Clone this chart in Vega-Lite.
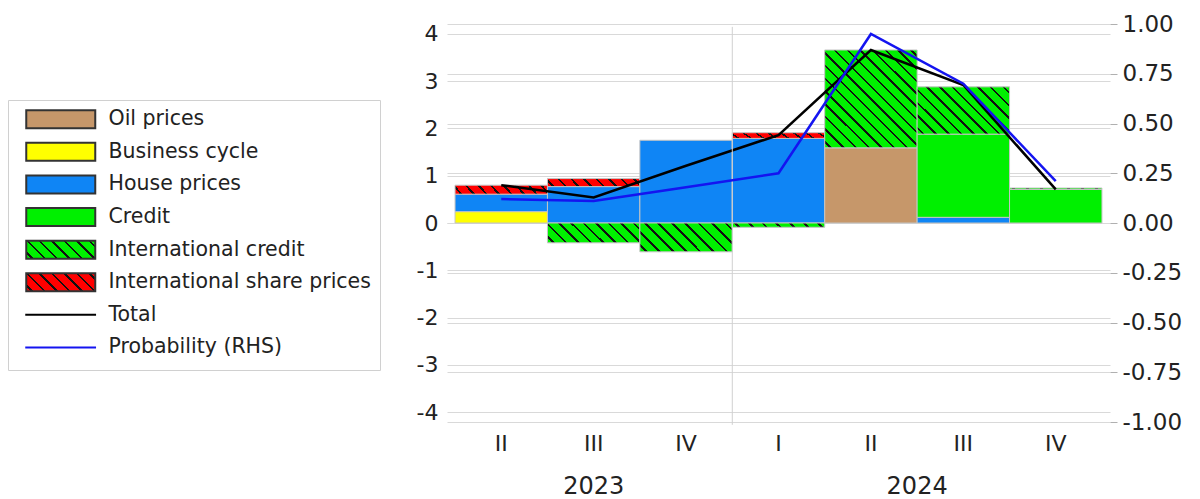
{
"$schema": "https://vega.github.io/schema/vega-lite/v6.json",
"autosize": {"type": "none"},
"width": 663,
"height": 398,
"padding": {"left": 447, "top": 24, "right": 90, "bottom": 77},
"background": "white",
"config": {
  "view": {"stroke": null},
  "font": "DejaVu Sans",
  "axis": {"labelFont": "DejaVu Sans", "labelFontSize": 22, "labelColor": "#222222", "domain": false, "gridColor": "#d9d9d9", "gridWidth": 1}
},
"datasets": {
  "bars": [
    {"q": "2023 II", "series": "Business cycle", "value": 0.24, "o": 1},
    {"q": "2023 II", "series": "House prices", "value": 0.37, "o": 2},
    {"q": "2023 II", "series": "International share prices", "value": 0.19, "o": 5},
    {"q": "2023 III", "series": "House prices", "value": 0.77, "o": 2},
    {"q": "2023 III", "series": "International share prices", "value": 0.17, "o": 5},
    {"q": "2023 III", "series": "International credit", "value": -0.42, "o": 4},
    {"q": "2023 IV", "series": "House prices", "value": 1.75, "o": 2},
    {"q": "2023 IV", "series": "International credit", "value": -0.61, "o": 4},
    {"q": "2024 I", "series": "House prices", "value": 1.79, "o": 2},
    {"q": "2024 I", "series": "International share prices", "value": 0.12, "o": 5},
    {"q": "2024 I", "series": "International credit", "value": -0.09, "o": 4},
    {"q": "2024 II", "series": "Oil prices", "value": 1.59, "o": 0},
    {"q": "2024 II", "series": "International credit", "value": 2.07, "o": 4},
    {"q": "2024 III", "series": "House prices", "value": 0.12, "o": 2},
    {"q": "2024 III", "series": "Credit", "value": 1.76, "o": 3},
    {"q": "2024 III", "series": "International credit", "value": 1.0, "o": 4},
    {"q": "2024 IV", "series": "Credit", "value": 0.71, "o": 3},
    {"q": "2024 IV", "series": "International credit", "value": 0.03, "o": 4}
  ],
  "lines": [
    {"q": "2023 II", "total": 0.80, "prob": 0.12},
    {"q": "2023 III", "total": 0.54, "prob": 0.11},
    {"q": "2023 IV", "total": 1.21, "prob": 0.18},
    {"q": "2024 I", "total": 1.86, "prob": 0.25},
    {"q": "2024 II", "total": 3.66, "prob": 0.95},
    {"q": "2024 III", "total": 2.92, "prob": 0.70},
    {"q": "2024 IV", "total": 0.71, "prob": 0.21}
  ]
},
"layer": [
  {"layer": [
    {
      "data": {"name": "bars"},
      "mark": {"type": "bar", "stroke": "#c4c4c4", "strokeWidth": 1},
      "encoding": {
        "x": {"field": "q", "type": "ordinal", "title": null, "scale": {"domain": ["2023 II","2023 III","2023 IV","2024 I","2024 II","2024 III","2024 IV"], "paddingInner": 0, "paddingOuter": 0.087},
              "axis": {"orient": "bottom", "labelExpr": "split(datum.label, ' ')[1]", "labelAngle": 0, "ticks": false, "labelPadding": 11, "grid": false, "title": null}},
        "y": {"field": "value", "type": "quantitative", "title": null, "stack": "zero", "scale": {"domain": [-4.21, 4.21], "nice": false, "zero": false},
              "axis": {"orient": "left", "values": [-4,-3,-2,-1,0,1,2,3,4], "labelExpr": "replace(datum.label, '\u2212', '-')", "grid": true, "ticks": false, "labelPadding": 9, "title": null}},
        "order": {"field": "o", "type": "quantitative"},
        "fill": {
          "field": "series", "type": "nominal",
          "scale": {"domain": ["Oil prices","Business cycle","House prices","Credit","International credit","International share prices","Total","Probability (RHS)"],
                    "range": ["#c6976a","#ffff00","#0f85f5","#00f000",
                      {"expr": "{gradient: 'linear', x1: 0, y1: 1, x2: 1.1806, y2: 0.692, stops: [{offset: 0, color: '#00f000'}, {offset: 0.0571, color: '#00f000'}, {offset: 0.0571, color: '#111111'}, {offset: 0.0857, color: '#111111'}, {offset: 0.0857, color: '#00f000'}, {offset: 0.2, color: '#00f000'}, {offset: 0.2, color: '#111111'}, {offset: 0.2286, color: '#111111'}, {offset: 0.2286, color: '#00f000'}, {offset: 0.3429, color: '#00f000'}, {offset: 0.3429, color: '#111111'}, {offset: 0.3714, color: '#111111'}, {offset: 0.3714, color: '#00f000'}, {offset: 0.4857, color: '#00f000'}, {offset: 0.4857, color: '#111111'}, {offset: 0.5143, color: '#111111'}, {offset: 0.5143, color: '#00f000'}, {offset: 0.6286, color: '#00f000'}, {offset: 0.6286, color: '#111111'}, {offset: 0.6571, color: '#111111'}, {offset: 0.6571, color: '#00f000'}, {offset: 0.7714, color: '#00f000'}, {offset: 0.7714, color: '#111111'}, {offset: 0.8, color: '#111111'}, {offset: 0.8, color: '#00f000'}, {offset: 0.9143, color: '#00f000'}, {offset: 0.9143, color: '#111111'}, {offset: 0.9429, color: '#111111'}, {offset: 0.9429, color: '#00f000'}, {offset: 1, color: '#00f000'}]}"},
                      {"expr": "{gradient: 'linear', x1: 0, y1: 1, x2: 1.1806, y2: 0.692, stops: [{offset: 0, color: '#ff0000'}, {offset: 0.0571, color: '#ff0000'}, {offset: 0.0571, color: '#111111'}, {offset: 0.0857, color: '#111111'}, {offset: 0.0857, color: '#ff0000'}, {offset: 0.2, color: '#ff0000'}, {offset: 0.2, color: '#111111'}, {offset: 0.2286, color: '#111111'}, {offset: 0.2286, color: '#ff0000'}, {offset: 0.3429, color: '#ff0000'}, {offset: 0.3429, color: '#111111'}, {offset: 0.3714, color: '#111111'}, {offset: 0.3714, color: '#ff0000'}, {offset: 0.4857, color: '#ff0000'}, {offset: 0.4857, color: '#111111'}, {offset: 0.5143, color: '#111111'}, {offset: 0.5143, color: '#ff0000'}, {offset: 0.6286, color: '#ff0000'}, {offset: 0.6286, color: '#111111'}, {offset: 0.6571, color: '#111111'}, {offset: 0.6571, color: '#ff0000'}, {offset: 0.7714, color: '#ff0000'}, {offset: 0.7714, color: '#111111'}, {offset: 0.8, color: '#111111'}, {offset: 0.8, color: '#ff0000'}, {offset: 0.9143, color: '#ff0000'}, {offset: 0.9143, color: '#111111'}, {offset: 0.9429, color: '#111111'}, {offset: 0.9429, color: '#ff0000'}, {offset: 1, color: '#ff0000'}]}"},
                      "#000000","#1414f0"]},
          "legend": {"orient": "none", "legendX": -439, "legendY": 76, "title": null, "padding": 9, "strokeColor": "#d0d0d0", "fillColor": "#ffffff", "symbolSize": 256, "symbolStrokeWidth": 2, "symbolOpacity": 1, "labelOffset": 71, "labelFontSize": 20.5, "labelFont": "DejaVu Sans", "labelColor": "#222222", "labelLimit": 400, "rowPadding": 5.6},
          "condition": [
            {"test": "datum.series === 'International share prices'", "value": {"gradient": "linear", "x1": 0, "y1": 1, "x2": 1.0785, "y2": 0.9066, "stops": [{"offset":0,"color":"#ff0000"},{"offset":0.05,"color":"#ff0000"},{"offset":0.05,"color":"#111111"},{"offset":0.075,"color":"#111111"},{"offset":0.075,"color":"#ff0000"},{"offset":0.175,"color":"#ff0000"},{"offset":0.175,"color":"#111111"},{"offset":0.2,"color":"#111111"},{"offset":0.2,"color":"#ff0000"},{"offset":0.3,"color":"#ff0000"},{"offset":0.3,"color":"#111111"},{"offset":0.325,"color":"#111111"},{"offset":0.325,"color":"#ff0000"},{"offset":0.425,"color":"#ff0000"},{"offset":0.425,"color":"#111111"},{"offset":0.45,"color":"#111111"},{"offset":0.45,"color":"#ff0000"},{"offset":0.55,"color":"#ff0000"},{"offset":0.55,"color":"#111111"},{"offset":0.575,"color":"#111111"},{"offset":0.575,"color":"#ff0000"},{"offset":0.675,"color":"#ff0000"},{"offset":0.675,"color":"#111111"},{"offset":0.7,"color":"#111111"},{"offset":0.7,"color":"#ff0000"},{"offset":0.8,"color":"#ff0000"},{"offset":0.8,"color":"#111111"},{"offset":0.825,"color":"#111111"},{"offset":0.825,"color":"#ff0000"},{"offset":0.925,"color":"#ff0000"},{"offset":0.925,"color":"#111111"},{"offset":0.95,"color":"#111111"},{"offset":0.95,"color":"#ff0000"},{"offset":1,"color":"#ff0000"}]}},
            {"test": "datum.series === 'International credit' && datum.q === '2023 III'", "value": {"gradient": "linear", "x1": 0, "y1": 1, "x2": 1.1615, "y2": 0.7499, "stops": [{"offset":0,"color":"#00f000"},{"offset":0.0444,"color":"#00f000"},{"offset":0.0444,"color":"#111111"},{"offset":0.0667,"color":"#111111"},{"offset":0.0667,"color":"#00f000"},{"offset":0.1556,"color":"#00f000"},{"offset":0.1556,"color":"#111111"},{"offset":0.1778,"color":"#111111"},{"offset":0.1778,"color":"#00f000"},{"offset":0.2667,"color":"#00f000"},{"offset":0.2667,"color":"#111111"},{"offset":0.2889,"color":"#111111"},{"offset":0.2889,"color":"#00f000"},{"offset":0.3778,"color":"#00f000"},{"offset":0.3778,"color":"#111111"},{"offset":0.4,"color":"#111111"},{"offset":0.4,"color":"#00f000"},{"offset":0.4889,"color":"#00f000"},{"offset":0.4889,"color":"#111111"},{"offset":0.5111,"color":"#111111"},{"offset":0.5111,"color":"#00f000"},{"offset":0.6,"color":"#00f000"},{"offset":0.6,"color":"#111111"},{"offset":0.6222,"color":"#111111"},{"offset":0.6222,"color":"#00f000"},{"offset":0.7111,"color":"#00f000"},{"offset":0.7111,"color":"#111111"},{"offset":0.7333,"color":"#111111"},{"offset":0.7333,"color":"#00f000"},{"offset":0.8222,"color":"#00f000"},{"offset":0.8222,"color":"#111111"},{"offset":0.8444,"color":"#111111"},{"offset":0.8444,"color":"#00f000"},{"offset":0.9333,"color":"#00f000"},{"offset":0.9333,"color":"#111111"},{"offset":0.9556,"color":"#111111"},{"offset":0.9556,"color":"#00f000"},{"offset":1,"color":"#00f000"}]}},
            {"test": "datum.series === 'International credit' && datum.q === '2023 IV'", "value": {"gradient": "linear", "x1": 0, "y1": 1, "x2": 1.1955, "y2": 0.6274, "stops": [{"offset":0,"color":"#00f000"},{"offset":0.0444,"color":"#00f000"},{"offset":0.0444,"color":"#111111"},{"offset":0.0667,"color":"#111111"},{"offset":0.0667,"color":"#00f000"},{"offset":0.1556,"color":"#00f000"},{"offset":0.1556,"color":"#111111"},{"offset":0.1778,"color":"#111111"},{"offset":0.1778,"color":"#00f000"},{"offset":0.2667,"color":"#00f000"},{"offset":0.2667,"color":"#111111"},{"offset":0.2889,"color":"#111111"},{"offset":0.2889,"color":"#00f000"},{"offset":0.3778,"color":"#00f000"},{"offset":0.3778,"color":"#111111"},{"offset":0.4,"color":"#111111"},{"offset":0.4,"color":"#00f000"},{"offset":0.4889,"color":"#00f000"},{"offset":0.4889,"color":"#111111"},{"offset":0.5111,"color":"#111111"},{"offset":0.5111,"color":"#00f000"},{"offset":0.6,"color":"#00f000"},{"offset":0.6,"color":"#111111"},{"offset":0.6222,"color":"#111111"},{"offset":0.6222,"color":"#00f000"},{"offset":0.7111,"color":"#00f000"},{"offset":0.7111,"color":"#111111"},{"offset":0.7333,"color":"#111111"},{"offset":0.7333,"color":"#00f000"},{"offset":0.8222,"color":"#00f000"},{"offset":0.8222,"color":"#111111"},{"offset":0.8444,"color":"#111111"},{"offset":0.8444,"color":"#00f000"},{"offset":0.9333,"color":"#00f000"},{"offset":0.9333,"color":"#111111"},{"offset":0.9556,"color":"#111111"},{"offset":0.9556,"color":"#00f000"},{"offset":1,"color":"#00f000"}]}},
            {"test": "datum.series === 'International credit' && (datum.q === '2024 I' || datum.q === '2024 IV')", "value": {"gradient": "linear", "x1": 0, "y1": 1, "x2": 1.0443, "y2": 0.9514, "stops": [{"offset":0,"color":"#00f000"},{"offset":0.0571,"color":"#00f000"},{"offset":0.0571,"color":"#111111"},{"offset":0.0857,"color":"#111111"},{"offset":0.0857,"color":"#00f000"},{"offset":0.2,"color":"#00f000"},{"offset":0.2,"color":"#111111"},{"offset":0.2286,"color":"#111111"},{"offset":0.2286,"color":"#00f000"},{"offset":0.3429,"color":"#00f000"},{"offset":0.3429,"color":"#111111"},{"offset":0.3714,"color":"#111111"},{"offset":0.3714,"color":"#00f000"},{"offset":0.4857,"color":"#00f000"},{"offset":0.4857,"color":"#111111"},{"offset":0.5143,"color":"#111111"},{"offset":0.5143,"color":"#00f000"},{"offset":0.6286,"color":"#00f000"},{"offset":0.6286,"color":"#111111"},{"offset":0.6571,"color":"#111111"},{"offset":0.6571,"color":"#00f000"},{"offset":0.7714,"color":"#00f000"},{"offset":0.7714,"color":"#111111"},{"offset":0.8,"color":"#111111"},{"offset":0.8,"color":"#00f000"},{"offset":0.9143,"color":"#00f000"},{"offset":0.9143,"color":"#111111"},{"offset":0.9429,"color":"#111111"},{"offset":0.9429,"color":"#00f000"},{"offset":1,"color":"#00f000"}]}},
            {"test": "datum.series === 'International credit' && datum.q === '2024 II'", "value": {"gradient": "linear", "x1": 0, "y1": 1, "x2": 0.9702, "y2": -0.0282, "stops": [{"offset":0,"color":"#00f000"},{"offset":0.0267,"color":"#00f000"},{"offset":0.0267,"color":"#111111"},{"offset":0.04,"color":"#111111"},{"offset":0.04,"color":"#00f000"},{"offset":0.0933,"color":"#00f000"},{"offset":0.0933,"color":"#111111"},{"offset":0.1067,"color":"#111111"},{"offset":0.1067,"color":"#00f000"},{"offset":0.16,"color":"#00f000"},{"offset":0.16,"color":"#111111"},{"offset":0.1733,"color":"#111111"},{"offset":0.1733,"color":"#00f000"},{"offset":0.2267,"color":"#00f000"},{"offset":0.2267,"color":"#111111"},{"offset":0.24,"color":"#111111"},{"offset":0.24,"color":"#00f000"},{"offset":0.2933,"color":"#00f000"},{"offset":0.2933,"color":"#111111"},{"offset":0.3067,"color":"#111111"},{"offset":0.3067,"color":"#00f000"},{"offset":0.36,"color":"#00f000"},{"offset":0.36,"color":"#111111"},{"offset":0.3733,"color":"#111111"},{"offset":0.3733,"color":"#00f000"},{"offset":0.4267,"color":"#00f000"},{"offset":0.4267,"color":"#111111"},{"offset":0.44,"color":"#111111"},{"offset":0.44,"color":"#00f000"},{"offset":0.4933,"color":"#00f000"},{"offset":0.4933,"color":"#111111"},{"offset":0.5067,"color":"#111111"},{"offset":0.5067,"color":"#00f000"},{"offset":0.56,"color":"#00f000"},{"offset":0.56,"color":"#111111"},{"offset":0.5733,"color":"#111111"},{"offset":0.5733,"color":"#00f000"},{"offset":0.6267,"color":"#00f000"},{"offset":0.6267,"color":"#111111"},{"offset":0.64,"color":"#111111"},{"offset":0.64,"color":"#00f000"},{"offset":0.6933,"color":"#00f000"},{"offset":0.6933,"color":"#111111"},{"offset":0.7067,"color":"#111111"},{"offset":0.7067,"color":"#00f000"},{"offset":0.76,"color":"#00f000"},{"offset":0.76,"color":"#111111"},{"offset":0.7733,"color":"#111111"},{"offset":0.7733,"color":"#00f000"},{"offset":0.8267,"color":"#00f000"},{"offset":0.8267,"color":"#111111"},{"offset":0.84,"color":"#111111"},{"offset":0.84,"color":"#00f000"},{"offset":0.8933,"color":"#00f000"},{"offset":0.8933,"color":"#111111"},{"offset":0.9067,"color":"#111111"},{"offset":0.9067,"color":"#00f000"},{"offset":0.96,"color":"#00f000"},{"offset":0.96,"color":"#111111"},{"offset":0.9733,"color":"#111111"},{"offset":0.9733,"color":"#00f000"},{"offset":1,"color":"#00f000"}]}},
            {"test": "datum.series === 'International credit' && datum.q === '2024 III'", "value": {"gradient": "linear", "x1": 0, "y1": 1, "x2": 1.198, "y2": 0.3867, "stops": [{"offset":0,"color":"#00f000"},{"offset":0.0364,"color":"#00f000"},{"offset":0.0364,"color":"#111111"},{"offset":0.0545,"color":"#111111"},{"offset":0.0545,"color":"#00f000"},{"offset":0.1273,"color":"#00f000"},{"offset":0.1273,"color":"#111111"},{"offset":0.1455,"color":"#111111"},{"offset":0.1455,"color":"#00f000"},{"offset":0.2182,"color":"#00f000"},{"offset":0.2182,"color":"#111111"},{"offset":0.2364,"color":"#111111"},{"offset":0.2364,"color":"#00f000"},{"offset":0.3091,"color":"#00f000"},{"offset":0.3091,"color":"#111111"},{"offset":0.3273,"color":"#111111"},{"offset":0.3273,"color":"#00f000"},{"offset":0.4,"color":"#00f000"},{"offset":0.4,"color":"#111111"},{"offset":0.4182,"color":"#111111"},{"offset":0.4182,"color":"#00f000"},{"offset":0.4909,"color":"#00f000"},{"offset":0.4909,"color":"#111111"},{"offset":0.5091,"color":"#111111"},{"offset":0.5091,"color":"#00f000"},{"offset":0.5818,"color":"#00f000"},{"offset":0.5818,"color":"#111111"},{"offset":0.6,"color":"#111111"},{"offset":0.6,"color":"#00f000"},{"offset":0.6727,"color":"#00f000"},{"offset":0.6727,"color":"#111111"},{"offset":0.6909,"color":"#111111"},{"offset":0.6909,"color":"#00f000"},{"offset":0.7636,"color":"#00f000"},{"offset":0.7636,"color":"#111111"},{"offset":0.7818,"color":"#111111"},{"offset":0.7818,"color":"#00f000"},{"offset":0.8545,"color":"#00f000"},{"offset":0.8545,"color":"#111111"},{"offset":0.8727,"color":"#111111"},{"offset":0.8727,"color":"#00f000"},{"offset":0.9455,"color":"#00f000"},{"offset":0.9455,"color":"#111111"},{"offset":0.9636,"color":"#111111"},{"offset":0.9636,"color":"#00f000"},{"offset":1,"color":"#00f000"}]}}
          ]
        }
      }
    },
    {
      "data": {"name": "bars"},
      "mark": {"type": "point", "opacity": 0},
      "encoding": {
        "x": {"field": "q", "type": "ordinal", "title": null, "scale": {"domain": ["2023 II","2023 III","2023 IV","2024 I","2024 II","2024 III","2024 IV"], "paddingInner": 0, "paddingOuter": 0.087}},
        "y": {"field": "value", "type": "quantitative", "title": null, "scale": {"domain": [-4.21, 4.21], "nice": false, "zero": false}},
        "shape": {"field": "series", "type": "nominal",
          "scale": {"domain": ["Oil prices","Business cycle","House prices","Credit","International credit","International share prices","Total","Probability (RHS)"],
                    "range": ["M-0.125,-1.125H8.5V1.125H-0.125Z","M-0.125,-1.125H8.5V1.125H-0.125Z","M-0.125,-1.125H8.5V1.125H-0.125Z","M-0.125,-1.125H8.5V1.125H-0.125Z","M-0.125,-1.125H8.5V1.125H-0.125Z","M-0.125,-1.125H8.5V1.125H-0.125Z","M-0.25,0H8.6M0,-1.125M0,1.125","M-0.25,0H8.6M0,-1.125M0,1.125"]},
          "legend": {"orient": "none", "legendX": -439, "legendY": 76, "title": null, "padding": 9, "strokeColor": "#d0d0d0", "fillColor": "#ffffff", "symbolSize": 256, "symbolStrokeWidth": 2, "symbolOpacity": 1, "labelOffset": 71, "labelFontSize": 20.5, "labelFont": "DejaVu Sans", "labelColor": "#222222", "labelLimit": 400, "rowPadding": 5.6}},
        "stroke": {"field": "series", "type": "nominal",
          "scale": {"domain": ["Oil prices","Business cycle","House prices","Credit","International credit","International share prices","Total","Probability (RHS)"],
                    "range": ["#333333","#333333","#333333","#333333","#333333","#333333","#000000","#1414f0"]},
          "legend": {"orient": "none", "legendX": -439, "legendY": 76, "title": null, "padding": 9, "strokeColor": "#d0d0d0", "fillColor": "#ffffff", "symbolSize": 256, "symbolStrokeWidth": 2, "symbolOpacity": 1, "labelOffset": 71, "labelFontSize": 20.5, "labelFont": "DejaVu Sans", "labelColor": "#222222", "labelLimit": 400, "rowPadding": 5.6}}
      }
    },
    {
      "data": {"name": "lines"},
      "mark": {"type": "line", "color": "#000000", "strokeWidth": 2.5},
      "encoding": {
        "x": {"field": "q", "type": "ordinal", "title": null, "bandPosition": 0.5, "scale": {"domain": ["2023 II","2023 III","2023 IV","2024 I","2024 II","2024 III","2024 IV"], "paddingInner": 0, "paddingOuter": 0.087}},
        "y": {"field": "total", "type": "quantitative", "title": null, "scale": {"domain": [-4.21, 4.21], "nice": false, "zero": false}}
      }
    },
    {
      "data": {"values": [{"sep": "2024 I"}]},
      "mark": {"type": "rule", "color": "#d0d0d0", "strokeWidth": 1},
      "encoding": {
        "x": {"field": "sep", "type": "ordinal", "title": null, "bandPosition": 0, "scale": {"domain": ["2023 II","2023 III","2023 IV","2024 I","2024 II","2024 III","2024 IV"], "paddingInner": 0, "paddingOuter": 0.087}},
        "y": {"datum": 4.15, "type": "quantitative", "title": null, "scale": {"domain": [-4.21, 4.21], "nice": false, "zero": false}},
        "y2": {"datum": -4.27}
      }
    },
    {
      "data": {"values": [{"year": "2023", "q": "2023 III"}]},
      "mark": {"type": "text", "fontSize": 24, "font": "DejaVu Sans", "color": "#222222", "baseline": "middle", "align": "center"},
      "encoding": {
        "x": {"field": "q", "type": "ordinal", "title": null, "bandPosition": 0.5, "scale": {"domain": ["2023 II","2023 III","2023 IV","2024 I","2024 II","2024 III","2024 IV"], "paddingInner": 0, "paddingOuter": 0.087}},
        "y": {"datum": -5.585, "type": "quantitative", "title": null, "scale": {"domain": [-4.21, 4.21], "nice": false, "zero": false}},
        "text": {"field": "year"}
      }
    },
    {
      "data": {"values": [{"year": "2024", "q": "2024 II"}]},
      "mark": {"type": "text", "fontSize": 24, "font": "DejaVu Sans", "color": "#222222", "baseline": "middle", "align": "center"},
      "encoding": {
        "x": {"field": "q", "type": "ordinal", "title": null, "bandPosition": 1, "scale": {"domain": ["2023 II","2023 III","2023 IV","2024 I","2024 II","2024 III","2024 IV"], "paddingInner": 0, "paddingOuter": 0.087}},
        "y": {"datum": -5.585, "type": "quantitative", "title": null, "scale": {"domain": [-4.21, 4.21], "nice": false, "zero": false}},
        "text": {"field": "year"}
      }
    }
  ]},
  {
    "data": {"name": "lines"},
    "mark": {"type": "line", "color": "#1414f0", "strokeWidth": 2.5},
    "encoding": {
      "x": {"field": "q", "type": "ordinal", "title": null, "bandPosition": 0.5, "scale": {"domain": ["2023 II","2023 III","2023 IV","2024 I","2024 II","2024 III","2024 IV"], "paddingInner": 0, "paddingOuter": 0.087}},
      "y": {"field": "prob", "type": "quantitative", "title": null, "scale": {"domain": [-1, 1], "nice": false, "zero": false},
            "axis": {"orient": "right", "values": [-1,-0.75,-0.5,-0.25,0,0.25,0.5,0.75,1], "format": ".2f", "labelExpr": "replace(datum.label, '\u2212', '-')", "labelFontSize": 23, "grid": true, "ticks": true, "tickSize": 7, "tickColor": "#b0b0b0", "labelPadding": 5, "title": null}}
    }
  }
],
"resolve": {"scale": {"y": "independent"}}
}
